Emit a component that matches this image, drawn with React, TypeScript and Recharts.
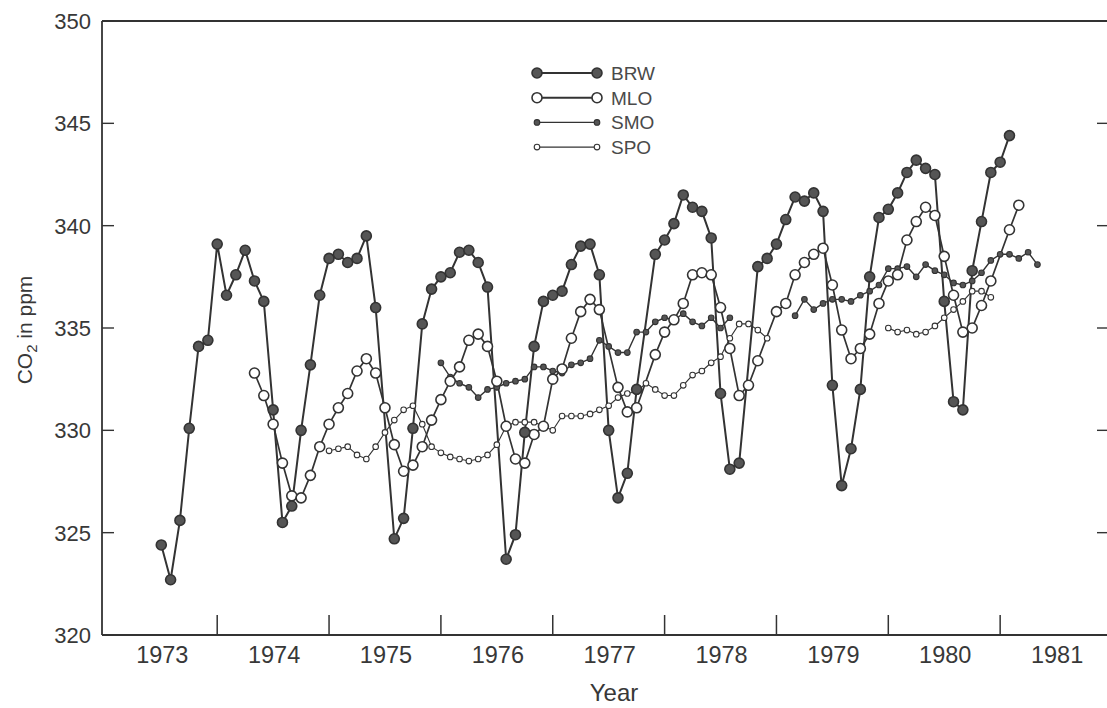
import { LineChart, Line, XAxis, YAxis, ReferenceLine, Legend } from 'recharts';

// Monthly CO2 means (ppm). Index 0 is July 1973; each array begins at its own start month.
const FIRST_MONTH = 1973.5;

const brwStart = 0;
const brw = [
  324.4, 322.7, 325.6, 330.1, 334.1, 334.4, 339.1, 336.6, 337.6, 338.8, 337.3, 336.3,
  331.0, 325.5, 326.3, 330.0, 333.2, 336.6, 338.4, 338.6, 338.2, 338.4, 339.5, 336.0,
  null, 324.7, 325.7, 330.1, 335.2, 336.9, 337.5, 337.7, 338.7, 338.8, 338.2, 337.0,
  null, 323.7, 324.9, 329.9, 334.1, 336.3, 336.6, 336.8, 338.1, 339.0, 339.1, 337.6,
  330.0, 326.7, 327.9, 332.0, null, 338.6, 339.3, 340.1, 341.5, 340.9, 340.7, 339.4,
  331.8, 328.1, 328.4, null, 338.0, 338.4, 339.1, 340.3, 341.4, 341.2, 341.6, 340.7,
  332.2, 327.3, 329.1, 332.0, 337.5, 340.4, 340.8, 341.6, 342.6, 343.2, 342.8, 342.5,
  336.3, 331.4, 331.0, 337.8, 340.2, 342.6, 343.1, 344.4,
];

const mloStart = 10;
const mlo = [
  332.8, 331.7, 330.3, 328.4, 326.8, 326.7, 327.8, 329.2, 330.3, 331.1, 331.8, 332.9,
  333.5, 332.8, 331.1, 329.3, 328.0, 328.3, 329.2, 330.5, 331.5, 332.4, 333.1, 334.4,
  334.7, 334.1, 332.4, 330.2, 328.6, 328.4, 329.8, 330.2, 332.5, 333.0, 334.5, 335.8,
  336.4, 335.9, null, 332.1, 330.9, 331.1, null, 333.7, 334.8, 335.4, 336.2, 337.6,
  337.7, 337.6, 336.0, 334.0, 331.7, 332.2, 333.4, null, 335.8, 336.2, 337.6, 338.2,
  338.6, 338.9, 337.1, 334.9, 333.5, 334.0, 334.7, 336.2, 337.3, 337.6, 339.3, 340.2,
  340.9, 340.5, 338.5, 336.6, 334.8, 335.0, 336.1, 337.3, null, 339.8, 341.0,
];

const smoStart = 30;
const smo = [
  333.3, 332.6, 332.3, 332.1, 331.6, 332.0, 332.1, 332.3, 332.4, 332.5, 333.1, 333.1,
  332.9, 332.8, 333.2, 333.3, 333.5, 334.4, 334.1, 333.8, 333.8, 334.8, 334.8, 335.3,
  335.5, 335.4, 335.7, 335.3, 335.1, 335.5, 335.0, 335.5, null, null, null, null,
  null, null, 335.6, 336.4, 335.9, 336.2, 336.4, 336.4, 336.3, 336.6, 336.8, 337.1,
  337.9, 337.9, 338.0, 337.5, 338.1, 337.8, 337.6, 337.2, 337.1, 337.3, 337.7, 338.3,
  338.6, 338.6, 338.4, 338.7, 338.1,
];

const spoStart = 18;
const spo = [
  329.0, 329.1, 329.2, 328.8, 328.6, 329.2, 329.9, 330.5, 331.0, 331.2, 330.3, 329.2,
  328.9, 328.7, 328.6, 328.5, 328.6, 328.8, 329.3, 330.2, 330.4, 330.4, 330.4, 330.2,
  330.0, 330.7, 330.7, 330.7, 330.8, 331.0, 331.2, 331.6, 331.8, 331.9, 332.3, 332.0,
  331.7, 331.7, 332.2, 332.7, 332.9, 333.3, 333.6, 334.5, 335.2, 335.2, 334.9, 334.5,
  null, null, null, null, null, null, null, null, null, null, null, null,
  335.0, 334.8, 334.9, 334.7, 334.8, 335.1, 335.5, 335.9, 336.3, 336.8, 336.8, 336.5,
];

const years = [1973, 1974, 1975, 1976, 1977, 1978, 1979, 1980, 1981];
const ppmTicks = [320, 325, 330, 335, 340, 345, 350];

const stations = [
  { key: 'brw', name: 'BRW', big: true, filled: true },
  { key: 'mlo', name: 'MLO', big: true, filled: false },
  { key: 'smo', name: 'SMO', big: false, filled: true },
  { key: 'spo', name: 'SPO', big: false, filled: false },
];

const INK = '#333';
const TEXT = '#383838';
const FONT = '"Liberation Sans", Arial, Helvetica, sans-serif';

const CHART_W = 1125;
const CHART_H = 708;
const MARGIN = { top: 21, right: 12, bottom: 0, left: 0 };
const Y_AXIS_W = 102;
const RIGHT_AXIS_W = 1;
const PLOT_W = CHART_W - MARGIN.left - MARGIN.right - Y_AXIS_W - RIGHT_AXIS_W;

function at(values: (number | null)[], start: number, k: number): number | null {
  const v = values[k - start];
  return v === undefined ? null : v;
}

const monthCount = Math.max(
  brwStart + brw.length,
  mloStart + mlo.length,
  smoStart + smo.length,
  spoStart + spo.length,
);

const rows = Array.from({ length: monthCount }, (_, k) => ({
  t: FIRST_MONTH + k / 12,
  brw: at(brw, brwStart, k),
  mlo: at(mlo, mloStart, k),
  smo: at(smo, smoStart, k),
  spo: at(spo, spoStart, k),
}));

// year boundaries get inward tick marks, mid-year positions carry the labels
const xTicks = years.flatMap((y) => (y === years[0] ? [y + 0.5] : [y, y + 0.5]));

function YearTick(props: any) {
  const { x, y, payload } = props;
  const v = payload.value as number;
  if (Number.isInteger(v)) {
    return <line x1={x} y1={y} x2={x} y2={y - 20} stroke={INK} strokeWidth={1.5} />;
  }
  return (
    <text x={x + 1} y={y + 28} textAnchor="middle" fontSize={23.5} fill={TEXT} fontFamily={FONT}>
      {Math.floor(v)}
    </text>
  );
}

// left tick label plus inward marks on both the left and the (off-page) right frame
function PpmTick(props: any) {
  const { x, y, payload } = props;
  return (
    <g>
      <line x1={x} y1={y} x2={x + 12} y2={y} stroke={INK} strokeWidth={1.4} />
      <line x1={x + PLOT_W - 15} y1={y} x2={x + PLOT_W} y2={y} stroke={INK} strokeWidth={1.4} />
      <text x={x - 11} y={y} dy="0.36em" textAnchor="end" fontSize={22} fill={TEXT} fontFamily={FONT}>
        {payload.value}
      </text>
    </g>
  );
}

function Marker({ cx, cy, big, filled }: { cx: number; cy: number; big: boolean; filled: boolean }) {
  return (
    <circle
      cx={cx}
      cy={cy}
      r={big ? 5 : 2.8}
      fill={filled ? '#555' : '#fff'}
      stroke={INK}
      strokeWidth={big ? 1.6 : 1.1}
    />
  );
}

function dotFor(key: string, big: boolean, filled: boolean) {
  return (p: any) =>
    p.value == null || p.cy == null ? (
      <g key={`${key}-${p.index}`} />
    ) : (
      <Marker key={`${key}-${p.index}`} cx={p.cx} cy={p.cy} big={big} filled={filled} />
    );
}

function StationKey() {
  return (
    <svg width={170} height={100}>
      {stations.map((s, i) => {
        const y = 12 + i * 24.7;
        return (
          <g key={s.key}>
            <line x1={9} y1={y} x2={69} y2={y} stroke={INK} strokeWidth={s.big ? 2 : 1.3} />
            <Marker cx={9} cy={y} big={s.big} filled={s.filled} />
            <Marker cx={69} cy={y} big={s.big} filled={s.filled} />
            <text x={83} y={y} dy="0.36em" fontSize={19} fill="#4a4a4a" fontFamily={FONT}>
              {s.name}
            </text>
          </g>
        );
      })}
    </svg>
  );
}

export default function App() {
  return (
    <div
      style={{
        position: 'fixed',
        left: 0,
        top: 0,
        width: 1107,
        height: 708,
        overflow: 'hidden',
        background: '#fff',
      }}
    >
      <LineChart width={CHART_W} height={CHART_H} data={rows} margin={MARGIN}>
        <XAxis
          dataKey="t"
          type="number"
          domain={[1972.97, 1982]}
          allowDataOverflow
          ticks={xTicks}
          interval={0}
          height={73}
          tickSize={0}
          tickMargin={0}
          tickLine={false}
          tick={<YearTick />}
          axisLine={{ stroke: INK, strokeWidth: 1.8 }}
          label={{
            content: (p: any) => {
              const vb = p.viewBox;
              return (
                <text
                  x={vb.x + vb.width / 2 + 7}
                  y={vb.y + vb.height - 7}
                  textAnchor="middle"
                  fontSize={24}
                  fill={TEXT}
                  fontFamily={FONT}
                >
                  Year
                </text>
              );
            },
          }}
        />
        <YAxis
          yAxisId="left"
          type="number"
          domain={[320, 350]}
          ticks={ppmTicks}
          interval={0}
          width={Y_AXIS_W}
          tickSize={0}
          tickMargin={0}
          tickLine={false}
          tick={<PpmTick />}
          axisLine={{ stroke: INK, strokeWidth: 1.8 }}
          label={{
            content: (p: any) => {
              const vb = p.viewBox;
              const cx = 24;
              const cy = vb.y + vb.height / 2 + 2;
              return (
                <text
                  transform={`rotate(-90, ${cx}, ${cy})`}
                  x={cx}
                  y={cy}
                  dy="0.36em"
                  textAnchor="middle"
                  fontSize={21}
                  fill={TEXT}
                  fontFamily={FONT}
                >
                  CO
                  <tspan dy={5} fontSize={15}>2</tspan>
                  <tspan dy={-5}> in ppm</tspan>
                </text>
              );
            },
          }}
        />
        <YAxis
          yAxisId="right"
          orientation="right"
          type="number"
          domain={[320, 350]}
          width={RIGHT_AXIS_W}
          tick={false}
          tickLine={false}
          axisLine={{ stroke: INK, strokeWidth: 1.8 }}
        />
        <ReferenceLine yAxisId="left" y={350} stroke={INK} strokeWidth={1.8} />
        <Legend
          layout="vertical"
          align="center"
          verticalAlign="middle"
          content={() => <StationKey />}
          wrapperStyle={{ left: 528, top: 61, width: 170, height: 100 }}
        />
        <Line
          yAxisId="left"
          dataKey="spo"
          name="SPO"
          stroke={INK}
          strokeWidth={1.1}
          dot={dotFor('spo', false, false)}
          activeDot={false}
          isAnimationActive={false}
        />
        <Line
          yAxisId="left"
          dataKey="smo"
          name="SMO"
          stroke={INK}
          strokeWidth={1.4}
          dot={dotFor('smo', false, true)}
          activeDot={false}
          isAnimationActive={false}
        />
        <Line
          yAxisId="left"
          dataKey="mlo"
          name="MLO"
          stroke={INK}
          strokeWidth={1.7}
          connectNulls
          dot={dotFor('mlo', true, false)}
          activeDot={false}
          isAnimationActive={false}
        />
        <Line
          yAxisId="left"
          dataKey="brw"
          name="BRW"
          stroke={INK}
          strokeWidth={2}
          connectNulls
          dot={dotFor('brw', true, true)}
          activeDot={false}
          isAnimationActive={false}
        />
      </LineChart>
    </div>
  );
}
